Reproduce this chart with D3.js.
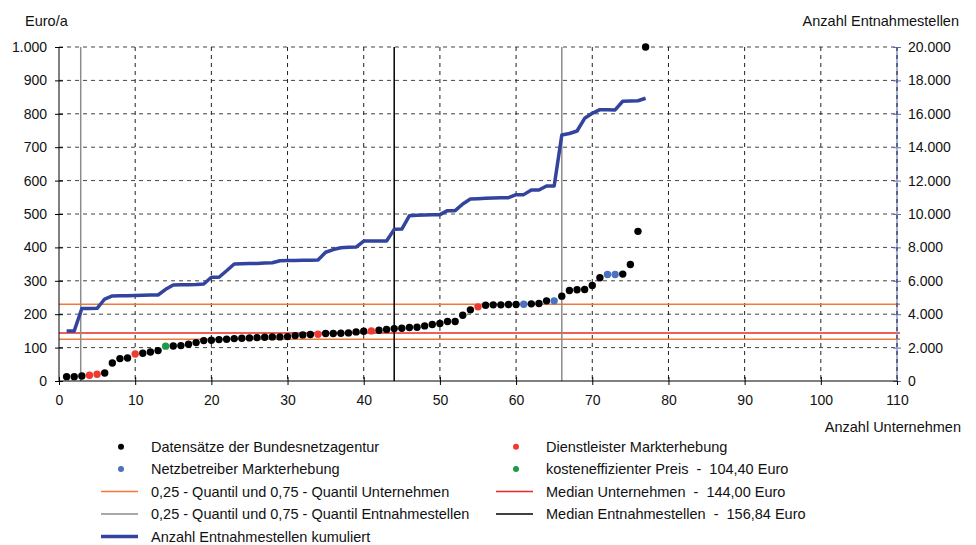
<!DOCTYPE html>
<html>
<head>
<meta charset="utf-8">
<script src="https://cdn.jsdelivr.net/npm/d3@7"></script>
<style>
  body { margin: 0; background: #fff; }
  text { font-family: "Liberation Sans", Arial, sans-serif; font-size: 14.5px; fill: #111; white-space: pre; }
</style>
</head>
<body>
<svg id="chart" width="976" height="545"></svg>
<script>
// price per company (Euro/a), sorted, company 1..77
var prices = [13, 13, 15, 17, 20, 24, 54, 67, 69, 81, 83, 87, 91, 104.4, 105, 106, 110, 115, 121, 122,
  124, 125, 127, 128, 129, 130, 131, 132, 132, 133, 136, 138, 139, 140, 142, 142, 143, 144, 147, 149,
  150, 152, 154, 156.84, 158, 160, 161, 165, 169, 172, 178, 178, 197, 213, 222, 227, 228, 228, 229, 229,
  230, 231, 232, 240, 240, 254, 271, 273, 274, 286, 309, 319, 319, 320, 349, 448, 1000];

// source of each data set: b = Bundesnetzagentur, d = Dienstleister, n = Netzbetreiber, k = kosteneffizient
var sources = "bbbddbbbbdbbbkbbbbbbbbbbbbbbbbbbbdbbbbbbdbbbbbbbbbbbbbdbbbbbnbbbnbbbbbbnnbbbb".split("");

// cumulated number of metering points
var cumulated = [3000, 3000, 4340, 4340, 4350, 4910, 5090, 5100, 5110, 5120, 5140, 5150, 5150, 5490, 5750,
  5760, 5770, 5780, 5810, 6210, 6210, 6600, 7010, 7020, 7030, 7040, 7060, 7080, 7200, 7210, 7220, 7225,
  7235, 7245, 7710, 7870, 7980, 8010, 8020, 8380, 8380, 8380, 8380, 9080, 9100, 9900, 9920, 9940, 9950,
  9960, 10200, 10200, 10600, 10900, 10920, 10940, 10960, 10970, 10980, 11160, 11160, 11440, 11440, 11680,
  11680, 14730, 14820, 14970, 15730, 16030, 16250, 16245, 16230, 16750, 16770, 16780, 16930];

var quantileCompanies = [125, 230];   // 0,25 / 0,75 Quantil Unternehmen
var medianCompanies = 144;
var quantilePoints = [2.85, 66];      // 0,25 / 0,75 Quantil Entnahmestellen (company index)
var medianPoints = 44;

var xTicks = d3.range(0, 111, 10);
var yTicks = d3.range(0, 1001, 100);
var y2Ticks = d3.range(0, 20001, 2000);

var colors = { b: "#000000", d: "#f03a30", n: "#4a72c0", k: "#1f9a48" };

var legendItems = [
  { type: "dot", color: colors.b, text: "Datensätze der Bundesnetzagentur", col: 0, row: 0 },
  { type: "dot", color: colors.d, text: "Dienstleister Markterhebung", col: 1, row: 0 },
  { type: "dot", color: colors.n, text: "Netzbetreiber Markterhebung", col: 0, row: 1 },
  { type: "dot", color: colors.k, text: "kosteneffizienter Preis  -  104,40 Euro", col: 1, row: 1 },
  { type: "line", color: "#f07a3a", w: 1.5, text: "0,25 - Quantil und 0,75 - Quantil Unternehmen", col: 0, row: 2 },
  { type: "line", color: "#e82a22", w: 1.5, text: "Median Unternehmen  -  144,00 Euro", col: 1, row: 2 },
  { type: "line", color: "#8c8c8c", w: 1.5, text: "0,25 - Quantil und 0,75 - Quantil Entnahmestellen", col: 0, row: 3 },
  { type: "line", color: "#000000", w: 1.5, text: "Median Entnahmestellen  -  156,84 Euro", col: 1, row: 3 },
  { type: "line", color: "#33449e", w: 3.5, text: "Anzahl Entnahmestellen kumuliert", col: 0, row: 4 }
];

var svg = d3.select("#chart"),
    margin = { top: 47, left: 59 },
    width = 838,
    height = 334;

var de = d3.formatLocale({ decimal: ",", thousands: ".", grouping: [3], currency: ["", "€"] });
var fmt = de.format(",");

var x = d3.scaleLinear().domain([0, 110]).range([0, width]),
    y = d3.scaleLinear().domain([0, 1000]).range([height, 0]),
    y2 = d3.scaleLinear().domain([0, 20000]).range([height, 0]);

var g = svg.append("g")
    .attr("transform", "translate(" + margin.left + "," + margin.top + ")");

// dashed grid
g.append("g").selectAll("line")
    .data(yTicks.slice(1))
    .enter().append("line")
    .attr("x1", 0).attr("x2", width)
    .attr("y1", d => y(d)).attr("y2", d => y(d))
    .attr("stroke", "#444").attr("stroke-dasharray", "4,4");

g.append("g").selectAll("line")
    .data(xTicks.slice(1))
    .enter().append("line")
    .attr("x1", d => x(d)).attr("x2", d => x(d))
    .attr("y1", 0).attr("y2", height)
    .attr("stroke", "#222").attr("stroke-dasharray", "4,4");

// quantile / median lines (companies, horizontal)
quantileCompanies.forEach(function (q) {
    g.append("line")
        .attr("x1", 0).attr("x2", width + 3)
        .attr("y1", y(q)).attr("y2", y(q))
        .attr("stroke", "#f07a3a").attr("stroke-width", 1.5);
});
g.append("line")
    .attr("x1", 0).attr("x2", width + 3)
    .attr("y1", y(medianCompanies)).attr("y2", y(medianCompanies))
    .attr("stroke", "#e82a22").attr("stroke-width", 1.5);

// quantile / median lines (metering points, vertical)
quantilePoints.forEach(function (q) {
    g.append("line")
        .attr("x1", x(q)).attr("x2", x(q))
        .attr("y1", 0).attr("y2", height)
        .attr("stroke", "#8c8c8c").attr("stroke-width", 1.5);
});
g.append("line")
    .attr("x1", x(medianPoints)).attr("x2", x(medianPoints))
    .attr("y1", 0).attr("y2", height)
    .attr("stroke", "#000").attr("stroke-width", 1.5);

// cumulated line
var line = d3.line()
    .x((d, i) => x(i + 1))
    .y(d => y2(d));

g.append("path")
    .datum(cumulated)
    .attr("fill", "none")
    .attr("stroke", "#33449e")
    .attr("stroke-width", 3.5)
    .attr("stroke-linejoin", "round")
    .attr("d", line);

// axes
function crossTicks(sel, color) {
    sel.select(".domain").remove();
    sel.selectAll(".tick line").attr("stroke", color);
    sel.selectAll(".tick text").style("font-size", "14px").attr("fill", "#111");
}

var yAxis = g.append("g")
    .call(d3.axisLeft(y).tickValues(yTicks).tickFormat(fmt).tickSize(4).tickPadding(8));
crossTicks(yAxis, "#000");
yAxis.selectAll(".tick line").attr("x1", 4);

var y2Axis = g.append("g")
    .attr("transform", "translate(" + width + ",0)")
    .call(d3.axisRight(y2).tickValues(y2Ticks).tickFormat(fmt).tickSize(4).tickPadding(7));
crossTicks(y2Axis, "#5a6fc0");
y2Axis.selectAll(".tick line").attr("x1", -4);

var xAxis = g.append("g")
    .attr("transform", "translate(0," + height + ")")
    .call(d3.axisBottom(x).tickValues(xTicks).tickSize(4).tickPadding(10));
crossTicks(xAxis, "#000");
xAxis.selectAll(".tick line").attr("y1", -4);

g.append("line").attr("x1", 0).attr("x2", 0).attr("y1", 0).attr("y2", height).attr("stroke", "#000");
g.append("line").attr("x1", width).attr("x2", width).attr("y1", 0).attr("y2", height)
    .attr("stroke", "#8a98cc").attr("stroke-width", 1.5);
g.append("line").attr("x1", width).attr("x2", width).attr("y1", 0).attr("y2", height)
    .attr("stroke", "#334").attr("stroke-dasharray", "4,4");
g.append("line").attr("x1", 0).attr("x2", width).attr("y1", height).attr("y2", height).attr("stroke", "#000");

// data points
g.append("g").selectAll("circle")
    .data(prices)
    .enter().append("circle")
    .attr("cx", (d, i) => x(i + 1))
    .attr("cy", d => y(d))
    .attr("r", 3.7)
    .attr("fill", (d, i) => colors[sources[i]]);

// axis titles
svg.append("text").attr("x", 25).attr("y", 26).text("Euro/a");
svg.append("text").attr("x", 959).attr("y", 26).attr("text-anchor", "end").text("Anzahl Entnahmestellen");
svg.append("text").attr("x", 961).attr("y", 432).attr("text-anchor", "end").text("Anzahl Unternehmen");

// legend
var legend = svg.append("g");
var colX = [[121, 101, 138, 151], [516, 496, 533, 546]];
var rowY = [446.7, 469, 491.5, 514, 536.5];

legendItems.forEach(function (d) {
    var c = colX[d.col], cy = rowY[d.row];
    if (d.type === "dot") {
        legend.append("circle").attr("cx", c[0]).attr("cy", cy).attr("r", 3).attr("fill", d.color);
    } else {
        legend.append("line").attr("x1", c[1]).attr("x2", c[2]).attr("y1", cy).attr("y2", cy)
            .attr("stroke", d.color).attr("stroke-width", d.w);
    }
    legend.append("text").attr("x", c[3]).attr("y", cy + 5).text(d.text);
});
</script>
</body>
</html>
